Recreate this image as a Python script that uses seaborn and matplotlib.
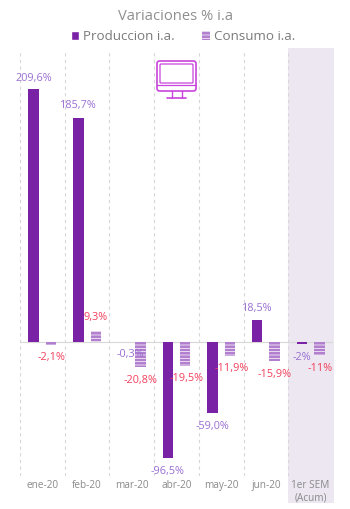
import numpy as np
import pandas as pd
import matplotlib
matplotlib.use("Agg")
import matplotlib.pyplot as plt
from matplotlib.patches import FancyBboxPatch, Patch
import seaborn as sns

months = ["ene-20", "feb-20", "mar-20", "abr-20", "may-20", "jun-20", "1er SEM\n(Acum)"]
produccion = [209.6, 185.7, -0.3, -96.5, -59.0, 18.5, -2]
consumo = [-2.1, 9.3, -20.8, -19.5, -11.9, -15.9, -11]
prod_labels = ["209,6%", "185,7%", "-0,3%", "-96,5%", "-59,0%", "18,5%", "-2%"]
cons_labels = ["-2,1%", "9,3%", "-20,8%", "-19,5%", "-11,9%", "-15,9%", "-11%"]

PROD_COLOR = "#7a22a6"
CONS_COLOR = "#b27fcf"
PROD_TEXT = "#9a6fd2"
CONS_TEXT = "#f2405c"
GREY = "#8a8a8a"

sns.set_style("white")
plt.rcParams["font.family"] = ["Open Sans", "DejaVu Sans"]
plt.rcParams["hatch.linewidth"] = 0.5

df = pd.DataFrame({
    "mes": months * 2,
    "serie": ["Produccion i.a."] * 7 + ["Consumo i.a."] * 7,
    "valor": produccion + consumo,
})

fig = plt.figure(figsize=(3.5, 5.09), dpi=100)
ax = fig.add_axes([20 / 350, 1 - 476 / 509, 313 / 350, 424 / 509])

# sombreado del acumulado, sale por debajo de los ejes
ax.axvspan(5.5, 6.52, ymin=-0.064, ymax=1.01, color="#ece7f0", lw=0, clip_on=False, zorder=0)

sns.barplot(data=df, x="mes", y="valor", hue="serie", order=months,
            palette=[PROD_COLOR, CONS_COLOR], width=0.78, gap=0.4, saturation=1,
            linewidth=0, legend=False, ax=ax, zorder=3)

for bar in ax.containers[1]:
    bar.set_hatch("-----")
    bar.set_edgecolor("white")
    bar.set_linewidth(0)

ax.set_xlim(-0.5, 6.5)
ax.set_ylim(-111, 240.3)
ax.set_xlabel("")
ax.set_ylabel("")
ax.set_yticks([])
ax.tick_params(axis="x", length=0, labelsize=7.2, labelcolor=GREY, pad=3)
sns.despine(ax=ax, left=True, bottom=True)

for x in np.arange(-0.5, 7):
    ax.axvline(x, color="#d9d6da", lw=0.8, ls=(0, (3, 3)), zorder=1)
ax.axhline(0, color="#d8d8d8", lw=0.8, zorder=2)

# desplazamientos de las etiquetas en pixeles desde el extremo de cada barra
prod_off = [(0, 11), (0, 12), (7, -12), (0, -13), (0, -13), (0, 11), (0, -13)]
cons_off = [(0, -13), (0, 13), (0, -13), (1, -13), (2, -12), (0, -13), (1, -13)]

for bars, labels, offs, col in [(ax.containers[0], prod_labels, prod_off, PROD_TEXT),
                                (ax.containers[1], cons_labels, cons_off, CONS_TEXT)]:
    for bar, lab, off in zip(bars, labels, offs):
        if bar.get_height() < 0:
            end = min(bar.get_y(), bar.get_y() + bar.get_height())
        else:
            end = bar.get_y() + bar.get_height()
        ax.annotate(lab, (bar.get_x() + bar.get_width() / 2, end), xytext=off,
                    textcoords="offset pixels", ha="center", va="center",
                    fontsize=7.8, color=col, zorder=4)

fig.text(176 / 350, 1 - 17 / 509, "Variaciones % i.a", ha="center", va="center",
         fontsize=10.6, color="#8f8f8f")
handles = [Patch(facecolor=PROD_COLOR), Patch(facecolor=CONS_COLOR, hatch="-----", edgecolor="white", lw=0)]
fig.legend(handles, ["Produccion i.a.", "Consumo i.a."], ncol=2, frameon=False,
           loc="center", bbox_to_anchor=(183 / 350, 1 - 37 / 509), fontsize=9.6,
           labelcolor="#7a7a7a", handlelength=0.65, handleheight=0.65, handletextpad=0.3,
           columnspacing=2.0)

# icono del monitor
icon = fig.add_axes([150 / 350, 1 - 104 / 509, 52 / 350, 48 / 509])
icon.set_xlim(150, 202)
icon.set_ylim(104, 56)
icon.axis("off")
ICON = "#c844dc"
icon.add_patch(FancyBboxPatch((157, 61), 39, 30, boxstyle="round,pad=0,rounding_size=2.5", fc="none", ec=ICON, lw=1.2))
icon.add_patch(FancyBboxPatch((160, 64), 33, 19, boxstyle="round,pad=0,rounding_size=1", fc="none", ec=ICON, lw=0.9))
icon.plot([157, 196], [85, 85], color=ICON, lw=0.9)
icon.plot([172, 172], [91, 97.5], color=ICON, lw=1)
icon.plot([182, 182], [91, 97.5], color=ICON, lw=1)
icon.plot([167, 186], [97.5, 97.5], color=ICON, lw=1.2)

fig.savefig("out.png", dpi=100)
